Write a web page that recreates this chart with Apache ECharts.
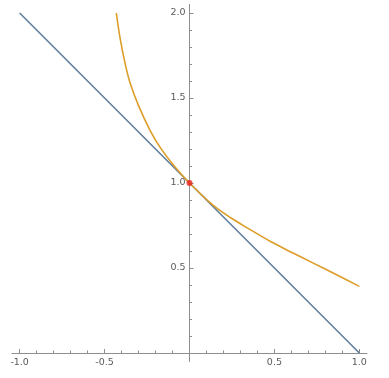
<!DOCTYPE html>
<html><head><meta charset="utf-8">
<script src="https://cdn.jsdelivr.net/npm/echarts@6/dist/echarts.min.js"></script>
<style>html,body{margin:0;padding:0;background:#fff;} #c{width:389px;height:378px;}</style>
</head><body><div id="c"></div>
<script>
// straight line
const lineX = [-1, 1];
const lineY = [2, 0];
// curve
const curveX = [-0.431, -0.41, -0.38, -0.35, -0.30, -0.23, -0.17, -0.09, 0, 0.14, 0.24, 0.34, 0.48, 0.60, 0.72, 0.86, 1.0];
const curveY = [2.0, 1.86, 1.707, 1.59, 1.455, 1.305, 1.205, 1.10, 1.0, 0.868, 0.797, 0.736, 0.654, 0.593, 0.533, 0.463, 0.392];
// highlighted point
const pointX = [0];
const pointY = [1];
// ticks
const xMajorTicks = [-1, -0.5, 0.5, 1];
const xTickLabels = ['-1.0', '-0.5', '0.5', '1.0'];
const xMinorTicks = [-0.9, -0.8, -0.7, -0.6, -0.4, -0.3, -0.2, -0.1, 0.1, 0.2, 0.3, 0.4, 0.6, 0.7, 0.8, 0.9];
const yMajorTicks = [0.5, 1, 1.5, 2];
const yTickLabels = ['0.5', '1.0', '1.5', '2.0'];
const yMinorTicks = [0.1, 0.2, 0.3, 0.4, 0.6, 0.7, 0.8, 0.9, 1.1, 1.2, 1.3, 1.4, 1.6, 1.7, 1.8, 1.9];

const XMIN = -1.045, XMAX = 1.045, YMIN = -0.05, YMAX = 2.05;
const axisColor = '#8e8e8e';
const labelStyle = { color: '#5a5a5a', fontSize: 9.5, fontFamily: 'DejaVu Sans' };

// layout of plot area
const L = 12, R = 22, T = 4.5, B = 16.5, W = 389 - L - R, H = 378 - T - B;
const zeroXpx = L + W * (0 - XMIN) / (XMAX - XMIN);     // left offset of the y axis
const zeroYpx = T + H * (YMAX - 0) / (YMAX - YMIN);     // top offset of the x axis

function lbl(ticks, labels) {
  return v => {
    for (let i = 0; i < ticks.length; i++) if (Math.abs(ticks[i] - v) < 1e-9) return labels[i];
    return '';
  };
}
const hidden = { show: false };

const chart = echarts.init(document.getElementById('c'), null, { renderer: 'canvas' });
chart.setOption({
  animation: false,
  backgroundColor: '#fff',
  grid: [
    { left: L, right: R, top: T, bottom: B, outerBoundsMode: 'none' },
    { left: zeroXpx, right: R, top: T, bottom: B, outerBoundsMode: 'none' },
    { left: L, right: R, top: T, bottom: 378 - zeroYpx, outerBoundsMode: 'none' }
  ],
  xAxis: [
    { gridIndex: 0, type: 'value', min: XMIN, max: XMAX, show: false },
    { gridIndex: 1, type: 'value', min: 0, max: 1, show: false },
    {
      gridIndex: 2, type: 'value', min: XMIN, max: XMAX, position: 'bottom',
      axisLine: { show: true, onZero: false, lineStyle: { color: axisColor, width: 1 } },
      axisTick: { show: true, inside: true, length: 4, customValues: xMajorTicks, lineStyle: { color: axisColor } },
      axisLabel: { show: true, customValues: xMajorTicks, formatter: lbl(xMajorTicks, xTickLabels), margin: 5, ...labelStyle },
      splitLine: hidden
    },
    {
      gridIndex: 2, type: 'value', min: XMIN, max: XMAX, position: 'bottom',
      axisLine: { show: false, onZero: false },
      axisTick: { show: true, inside: true, length: 2.5, customValues: xMinorTicks, lineStyle: { color: axisColor } },
      axisLabel: hidden, splitLine: hidden
    }
  ],
  yAxis: [
    { gridIndex: 0, type: 'value', min: YMIN, max: YMAX, show: false },
    {
      gridIndex: 1, type: 'value', min: YMIN, max: YMAX, position: 'left',
      axisLine: { show: true, onZero: false, lineStyle: { color: axisColor, width: 1 } },
      axisTick: { show: true, inside: true, length: 4, customValues: yMajorTicks, lineStyle: { color: axisColor } },
      axisLabel: { show: true, customValues: yMajorTicks, formatter: lbl(yMajorTicks, yTickLabels), margin: 4, ...labelStyle },
      splitLine: hidden
    },
    {
      gridIndex: 1, type: 'value', min: YMIN, max: YMAX, position: 'left',
      axisLine: { show: false, onZero: false },
      axisTick: { show: true, inside: true, length: 2.5, customValues: yMinorTicks, lineStyle: { color: axisColor } },
      axisLabel: hidden, splitLine: hidden
    },
    { gridIndex: 2, type: 'value', min: 0, max: 1, show: false }
  ],
  series: [
    {
      type: 'line', xAxisIndex: 0, yAxisIndex: 0,
      data: lineX.map((x, i) => [x, lineY[i]]),
      showSymbol: false, symbol: 'none',
      lineStyle: { color: '#607e9e', width: 1.6 }, z: 3
    },
    {
      type: 'line', xAxisIndex: 0, yAxisIndex: 0,
      data: curveX.map((x, i) => [x, curveY[i]]),
      showSymbol: false, symbol: 'none', smooth: 0.3,
      lineStyle: { color: '#dc9e28', width: 1.6 }, z: 4
    },
    {
      type: 'scatter', xAxisIndex: 0, yAxisIndex: 0,
      data: pointX.map((x, i) => [x, pointY[i]]),
      symbolSize: 6, itemStyle: { color: '#e8201c' }, z: 5
    }
  ]
});
</script>
</body></html>
